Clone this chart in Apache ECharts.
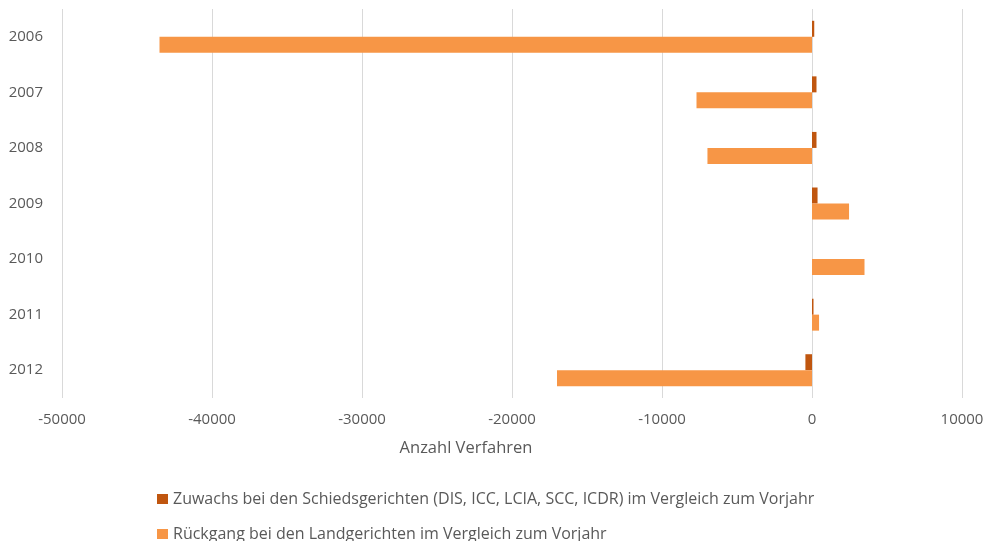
<!DOCTYPE html>
<html>
<head>
<meta charset="utf-8">
<script src="https://cdn.jsdelivr.net/npm/echarts@6/dist/echarts.min.js"></script>
<style>html,body{margin:0;padding:0;background:#fff;}#c{width:987px;height:541px;}</style>
</head>
<body>
<div id="c"></div>
<script>
const years = ['2006','2007','2008','2009','2010','2011','2012'];
const schiedsgerichte = [150, 300, 300, 370, 0, 100, -440];
const landgerichte = [-43500, -7700, -6970, 2470, 3500, 470, -17000];
const seriesNames = [
  'Zuwachs bei den Schiedsgerichten (DIS, ICC, LCIA, SCC, ICDR) im Vergleich zum Vorjahr',
  'Rückgang bei den Landgerichten im Vergleich zum Vorjahr'
];
const axisName = 'Anzahl Verfahren';
const font = 'Open Sans';
const legendBase = {
  orient: 'vertical', left: 157, padding: 0,
  itemWidth: 11, itemHeight: 10, icon: 'rect', itemGap: 0,
  textStyle: {color: '#595959', fontSize: 16, fontFamily: font, lineHeight: 16}
};
const chart = echarts.init(document.getElementById('c'));
chart.setOption({
  animation: false,
  textStyle: {fontFamily: font},
  grid: {left: 62, right: 25, top: 9, bottom: 143, containLabel: false},
  xAxis: {
    type: 'value', min: -50000, max: 10000, interval: 10000,
    axisLine: {show: false}, axisTick: {show: false},
    splitLine: {show: true, lineStyle: {color: '#d9d9d9', width: 1}},
    axisLabel: {color: '#595959', fontSize: 15, margin: 14, fontFamily: font,
      formatter: v => String(v)},
    name: axisName, nameLocation: 'middle', nameGap: 42,
    nameTextStyle: {color: '#595959', fontSize: 16.5, fontFamily: font, padding: [0, 92, 0, 0]}
  },
  yAxis: {
    type: 'category', data: years, inverse: true,
    axisLine: {show: false}, axisTick: {show: false}, splitLine: {show: false},
    axisLabel: {color: '#595959', fontSize: 15, margin: 19, fontFamily: font}
  },
  legend: [
    Object.assign({}, legendBase, {top: 491, data: [seriesNames[0]]}),
    Object.assign({}, legendBase, {top: 526, data: [seriesNames[1]]})
  ],
  series: [
    {name: seriesNames[0], type: 'bar', data: schiedsgerichte, barWidth: 16, barGap: '0%',
     itemStyle: {color: '#C0560F'}},
    {name: seriesNames[1], type: 'bar', data: landgerichte, barWidth: 16, barGap: '0%',
     itemStyle: {color: '#F79646'}}
  ]
});
</script>
</body>
</html>
